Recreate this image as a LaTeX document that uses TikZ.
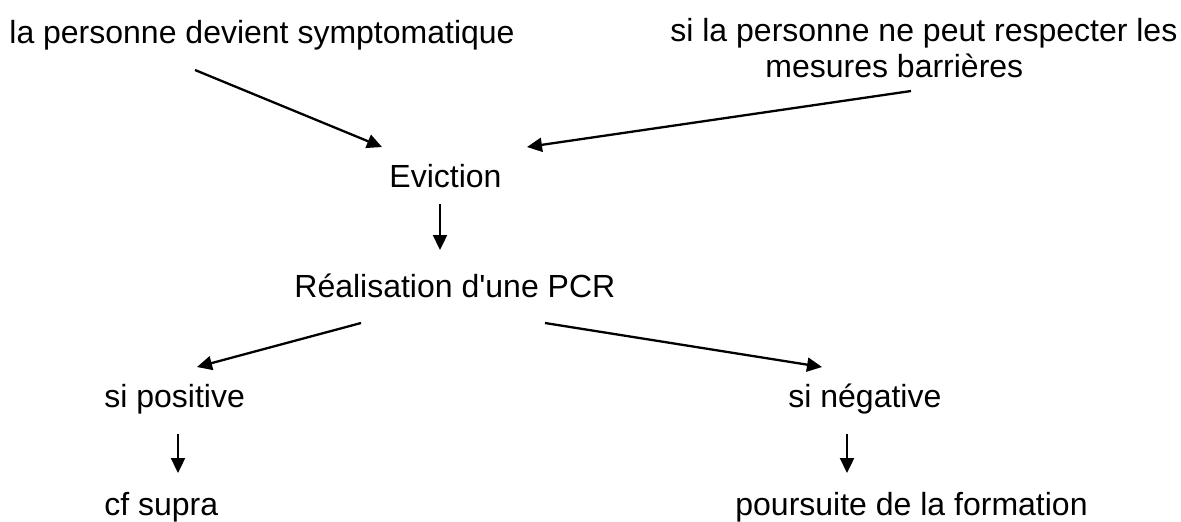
\documentclass[tikz,border=0pt]{standalone}
\usepackage{fontspec}
\setmainfont{Liberation Sans}[Ligatures=TeXOff]
\usetikzlibrary{arrows.meta}
\begin{document}
\begin{tikzpicture}[x=0.5pt,y=-0.5pt,
  txt/.style={inner sep=0pt, anchor=base west, font=\fontsize{16}{19}\selectfont},
  arr/.style={-{Triangle[length=7.5pt,width=7pt]}, line width=1.15pt}]
\useasboundingbox (0,0) rectangle (1181,521);
\node[txt] (sym) at (9,43) {la personne devient symptomatique};
\node[txt] (resp1) at (670,41) {si la personne ne peut respecter les};
\node[txt] (resp2) at (765,77) {mesures barrières};
\node[txt] (ev) at (389,187) {Eviction};
\node[txt] (pcr) at (294,297) {Réalisation d'une PCR};
\node[txt] (pos) at (104,407) {si positive};
\node[txt] (neg) at (788,407) {si négative};
\node[txt] (cf) at (104,515) {cf supra};
\node[txt] (pour) at (735,515) {poursuite de la formation};
\draw[arr] ([shift={(186,27)}]sym.base west) -- ([shift={(-7,-40)}]ev.base west);
\draw[arr] ([shift={(146,14)}]resp2.base west) -- ([shift={(138,-40)}]ev.base west);
\draw[arr] ([shift={(51,17)}]ev.base west) -- ([shift={(146,-47)}]pcr.base west);
\draw[arr] ([shift={(67,26)}]pcr.base west) -- ([shift={(93,-40)}]pos.base west);
\draw[arr] ([shift={(251,26)}]pcr.base west) -- ([shift={(34,-40)}]neg.base west);
\draw[arr] ([shift={(74,27)}]pos.base west) -- ([shift={(74,-42)}]cf.base west);
\draw[arr] ([shift={(59,27)}]neg.base west) -- ([shift={(112,-42)}]pour.base west);
\end{tikzpicture}
\end{document}
